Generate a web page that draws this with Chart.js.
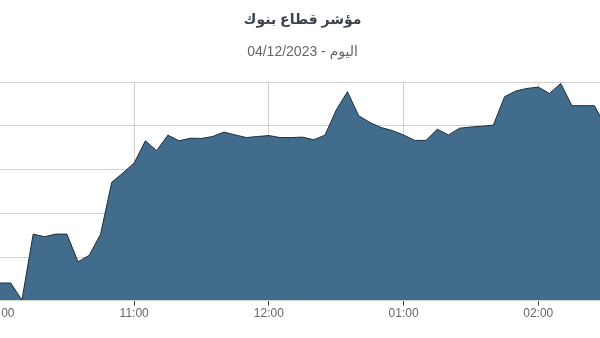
<!DOCTYPE html>
<html>
<head>
<meta charset="utf-8">
<script src="https://cdn.jsdelivr.net/npm/chart.js@4/dist/chart.umd.min.js"></script>
<style>
  body { margin: 0; background: #fff; }
  #wrap { position: relative; width: 600px; height: 338px; overflow: hidden; }
  #inner { position: absolute; left: -40px; top: 0; width: 680px; height: 338px; }
</style>
</head>
<body>
<div id="wrap"><div id="inner"><canvas id="myChart"></canvas></div></div>
<script>
let titleText = 'مؤشر قطاع بنوك'
let subtitleText = 'اليوم - 04/12/2023'

// 5 minute readings, 10:00 -> 14:30
let times = ['10:00', '10:05', '10:10', '10:15', '10:20', '10:25', '10:30', '10:35', '10:40', '10:45', '10:50', '10:55',
    '11:00', '11:05', '11:10', '11:15', '11:20', '11:25', '11:30', '11:35', '11:40', '11:45', '11:50', '11:55',
    '12:00', '12:05', '12:10', '12:15', '12:20', '12:25', '12:30', '12:35', '12:40', '12:45', '12:50', '12:55',
    '13:00', '13:05', '13:10', '13:15', '13:20', '13:25', '13:30', '13:35', '13:40', '13:45', '13:50', '13:55',
    '14:00', '14:05', '14:10', '14:15', '14:20', '14:25', '14:30']
let values = [1708.1, 1708.1, 1700.3, 1730.5, 1729.3, 1730.5, 1730.5, 1717.8, 1720.8, 1730.4, 1754.2, 1758.5,
    1763.1, 1773.2, 1768.7, 1775.8, 1773.2, 1774.4, 1774.3, 1775.2, 1777.2, 1775.9, 1774.7, 1775.2,
    1775.6, 1774.7, 1774.7, 1774.9, 1773.7, 1775.8, 1787.3, 1795.7, 1784.7, 1781.6, 1779.3, 1777.9,
    1775.9, 1773.4, 1773.4, 1778.5, 1775.9, 1779.0, 1779.5, 1779.9, 1780.4, 1793.4, 1796.0, 1797.2,
    1797.8, 1794.9, 1799.5, 1789.3, 1789.3, 1789.3, 1780.0]
let hourLabels = ['10:00', '11:00', '12:00', '01:00', '02:00']

function toMinutes(t) {
    let parts = t.split(':')
    return (parseInt(parts[0]) - 10) * 60 + parseInt(parts[1])
}

let points = times.map(function(t, i) {
    return { x: toMinutes(t), y: values[i] }
})

let fontFamily = "'Liberation Sans', 'DejaVu Sans', Arial, sans-serif"

let chart = new Chart(document.getElementById('myChart'), {
    type: 'line',
    data: {
        datasets: [{
            label: titleText,
            data: points,
            fill: 'start',
            borderColor: '#1f2e3d',
            borderWidth: 1,
            backgroundColor: 'rgba(45, 92, 128, 0.9)',
            pointRadius: 0,
            tension: 0
        }]
    },
    options: {
        responsive: true,
        maintainAspectRatio: false,
        animation: false,
        layout: {
            padding: { left: 39.5, right: 34.4, top: 0, bottom: 15.9 }
        },
        plugins: {
            legend: { display: false },
            tooltip: { enabled: false },
            title: {
                display: true,
                text: titleText,
                color: '#3a4250',
                font: { family: fontFamily, size: 14, weight: 'bold' },
                padding: { top: 11.6, bottom: 0 }
            },
            subtitle: {
                display: true,
                text: subtitleText,
                color: '#666666',
                font: { family: fontFamily, size: 14 },
                padding: { top: 15.2, bottom: 21.9 }
            }
        },
        scales: {
            x: {
                type: 'linear',
                min: 0,
                max: 270,
                grid: { color: '#d0d0d0', tickColor: '#444', tickLength: 5 },
                border: { color: '#c6d8c8', z: 1 },
                ticks: {
                    stepSize: 60,
                    includeBounds: false,
                    maxRotation: 0,
                    padding: 1,
                    color: '#666666',
                    font: { family: fontFamily, size: 12 },
                    callback: function(value) {
                        return hourLabels[value / 60]
                    }
                }
            },
            y: {
                min: 1700,
                max: 1800,
                grid: { color: '#d0d0d0', drawTicks: false },
                border: { display: false },
                ticks: { stepSize: 20, display: false }
            }
        }
    }
})
</script>
</body>
</html>
